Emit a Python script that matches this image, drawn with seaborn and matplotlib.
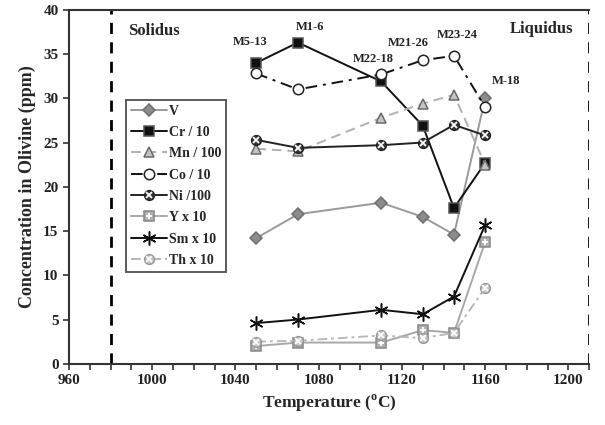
import matplotlib
matplotlib.use("Agg")
import matplotlib.pyplot as plt
import seaborn as sns
from matplotlib.legend_handler import HandlerTuple
from matplotlib.ticker import MultipleLocator

# olivine trace element data vs temperature
temps = [1050, 1070, 1110, 1130, 1145, 1160]
v_vals = [14.2, 16.9, 18.2, 16.6, 14.6, 30.0]
cr_vals = [34.0, 36.3, 31.9, 26.9, 17.6, 22.7]
mn_vals = [24.3, 24.0, 27.8, 29.4, 30.4, 22.5]
co_vals = [32.8, 31.0, 32.7, 34.3, 34.8, 29.0]
ni_vals = [25.3, 24.4, 24.7, 25.0, 27.0, 25.8]
y_vals = [2.0, 2.4, 2.4, 3.8, 3.5, 13.8]
sm_vals = [4.6, 5.0, 6.1, 5.6, 7.6, 15.7]
th_vals = [2.5, 2.6, 3.2, 2.9, 3.5, 8.6]
series_names = ["V", "Cr / 10", "Mn / 100", "Co / 10", "Ni /100", "Y x 10", "Sm x 10", "Th x 10"]
sample_labels = ["M5-13", "M1-6", "M22-18", "M21-26", "M23-24", "M-18"]
solidus_t = 980
liquidus_t = 1210

sns.set_style("ticks")
plt.rcParams["font.family"] = ["Liberation Serif", "DejaVu Serif"]
plt.rcParams["font.weight"] = "bold"
plt.rcParams["mathtext.fontset"] = "custom"
plt.rcParams["mathtext.rm"] = "Liberation Serif:bold"

fig = plt.figure(figsize=(6.05, 4.25), dpi=100, facecolor="w")
ax = fig.add_axes([0.114, 0.144, 0.860, 0.833])

# (values, line color, linestyle, marker, marker face, marker edge, size, overlay marker)
styles = [
    (v_vals, "#9a9a9a", "-", "D", "#8c8c8c", "#6e6e6e", 6, None),
    (cr_vals, "#111111", "-", "s", "#111111", "#555555", 7, None),
    (mn_vals, "#b0b0b0", (0, (5, 3)), "^", "#c4c4c4", "#6a6a6a", 7.5, None),
    (co_vals, "#111111", (0, (6, 3, 1.5, 3)), "o", "white", "#222222", 7.5, None),
    (ni_vals, "#222222", "-", "o", "#3a3a3a", "#222222", 7, "x"),
    (y_vals, "#a8a8a8", "-", "s", "#b0b0b0", "#888888", 7, "+"),
    (sm_vals, "#111111", "-", (6, 2, 0), "#111111", "#111111", 10, None),
    (th_vals, "#b8b8b8", (0, (5, 2, 1.5, 2)), "o", "#c8c8c8", "#999999", 7, "x"),
]

handles = []
for name, (vals, lc, ls, mk, mfc, mec, ms, over) in zip(series_names, styles):
    n0 = len(ax.lines)
    sns.lineplot(x=temps, y=vals, ax=ax, color=lc, linestyle=ls, linewidth=1.4,
                 marker=mk, markersize=ms, markerfacecolor=mfc, markeredgecolor=mec,
                 markeredgewidth=1.1, label=name, legend=False)
    h = ax.lines[n0]
    if over is not None:
        o, = ax.plot(temps, vals, linestyle="none", marker=over, markersize=ms * 0.6,
                     markeredgecolor="white", markeredgewidth=1.3)
        handles.append((h, o))
    else:
        handles.append(h)

# solidus / liquidus
for t in (solidus_t, liquidus_t):
    ax.axvline(t, color="black", linewidth=2.0, linestyle=(0, (4, 3)), zorder=1)

ax.text(1001, 37.6, "Solidus", ha="center", va="center", fontsize=12, fontweight="bold")
ax.text(1187, 37.8, "Liquidus", ha="center", va="center", fontsize=12, fontweight="bold")

label_pos = [(1047, 36.4), (1076, 38.1), (1106, 34.4), (1123, 36.3), (1146.5, 37.2), (1170, 31.9)]
for lab, (lx, ly) in zip(sample_labels, label_pos):
    ax.text(lx, ly, lab, ha="center", va="center", fontsize=9, fontweight="bold", color="#222222")

ax.set_xlim(960, 1210)
ax.set_ylim(0, 40)
ax.xaxis.set_major_locator(MultipleLocator(40))
ax.xaxis.set_minor_locator(MultipleLocator(10))
ax.yaxis.set_major_locator(MultipleLocator(5))
ax.tick_params(axis="both", which="both", direction="out", length=4, width=1.2,
               colors="#333333", labelcolor="#222222", labelsize=11)
for lab in ax.get_xticklabels() + ax.get_yticklabels():
    lab.set_fontweight("bold")

ax.spines["right"].set_visible(False)
for s in ("left", "bottom", "top"):
    ax.spines[s].set_color("#333333")
    ax.spines[s].set_linewidth(1.5)

ax.set_xlabel(r"Temperature ($^{\rm o}$C)", fontsize=12.5, fontweight="bold", labelpad=4)
ax.set_ylabel("Concentration in Olivine (ppm)", fontsize=13, fontweight="bold", labelpad=5)

leg = ax.legend(handles, series_names, loc="upper left", bbox_to_anchor=(0.11, 0.746),
                borderaxespad=0, frameon=True, fancybox=False, fontsize=10,
                handlelength=2.6, handletextpad=0.15, labelspacing=0.6, borderpad=0.35,
                handler_map={tuple: HandlerTuple(ndivide=1)})
leg.get_frame().set_edgecolor("#222222")
leg.get_frame().set_linewidth(1.3)
for t in leg.get_texts():
    t.set_fontweight("bold")

fig.savefig("out.png", dpi=100, facecolor="w")
